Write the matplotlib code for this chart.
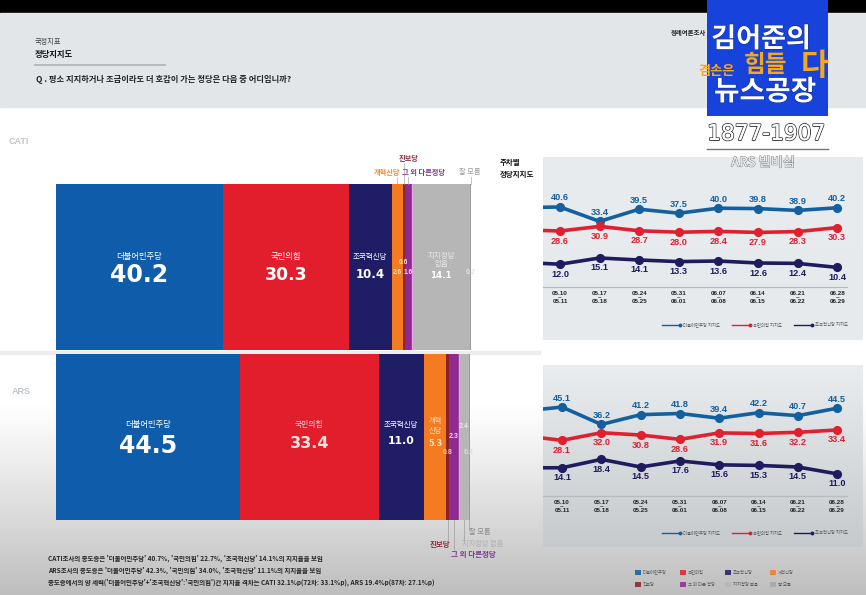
import numpy as np
import matplotlib
matplotlib.use("Agg")
import matplotlib.pyplot as plt
import matplotlib.patheffects as pe
from matplotlib.patches import Rectangle

W, H = 866, 595
KR = ['Noto Sans CJK KR', 'DejaVu Sans']
NUM = ['DejaVu Sans', 'Noto Sans CJK KR']
LAT = ['Liberation Sans', 'Noto Sans CJK KR']
plt.rcParams['font.family'] = KR

# ---- data ----
segment_names = ['더불어민주당', '국민의힘', '조국혁신당', '개혁신당', '진보당', '그 외 다른 정당', '지지정당 없음', '잘 모름']
cati_values = [40.2, 30.3, 10.4, 2.6, 0.6, 1.6, 14.1, 0.2]
ars_values = [44.5, 33.4, 11.0, 5.3, 0.8, 2.3, 2.4, 0.2]
segment_colors = ['#0f5cab', '#e31e2c', '#1f1d66', '#f47b20', '#8c2323', '#8e2a90', '#b6b6b6', '#a8a8a8']

date_labels = ['05.10\n~\n05.11', '05.17\n~\n05.18', '05.24\n~\n05.25', '05.31\n~\n06.01',
               '06.07\n~\n06.08', '06.14\n~\n06.15', '06.21\n~\n06.22', '06.28\n~\n06.29']
cati_dem = [40.6, 33.4, 39.5, 37.5, 40.0, 39.8, 38.9, 40.2]
cati_ppp = [28.6, 30.9, 28.7, 28.0, 28.4, 27.9, 28.3, 30.3]
cati_rebuild = [12.0, 15.1, 14.1, 13.3, 13.6, 12.6, 12.4, 10.4]
cati_prev = [40.3, 29.2, 12.9]
ars_dem = [45.1, 36.2, 41.2, 41.8, 39.4, 42.2, 40.7, 44.5]
ars_ppp = [28.1, 32.0, 30.8, 28.6, 31.9, 31.6, 32.2, 33.4]
ars_rebuild = [14.1, 18.4, 14.5, 17.6, 15.6, 15.3, 14.5, 11.0]
ars_prev = [43.0, 30.5, 14.1]
line_names = ['더불어민주당 지지도', '국민의힘 지지도', '조국혁신당 지지도']
line_colors = ['#14609f', '#e0202f', '#1e1c5e']

notes = ["CATI조사의 중도층은 '더불어민주당' 40.7%, '국민의힘' 22.7%, '조국혁신당' 14.1%의 지지율을 보임",
         "ARS조사의 중도층은 '더불어민주당' 42.3%, '국민의힘' 34.0%, '조국혁신당' 11.1%의 지지율을 보임",
         "중도층에서의 양 세력('더불어민주당'+'조국혁신당':'국민의힘')간 지지율 격차는 CATI 32.1%p(72차: 33.1%p), ARS 19.4%p(87차: 27.1%p)"]

# ---- canvas ----
fig = plt.figure(figsize=(W / 100, H / 100), dpi=100)

def axpx(x0, y0, x1, y1, **kw):
    return fig.add_axes([x0 / W, 1 - y1 / H, (x1 - x0) / W, (y1 - y0) / H], **kw)

bg = axpx(0, 0, W, H)
bg.set_xlim(0, W); bg.set_ylim(H, 0); bg.axis('off'); bg.set_zorder(0)

yy, xx = np.mgrid[0:H, 0:W]
shade = np.clip((yy - 400) / 195.0, 0, 1) ** 1.1
bgimg = 1 - 0.26 * shade
bg.imshow(bgimg, cmap='gray', vmin=0, vmax=1, extent=(0, W, H, 0), aspect='auto', zorder=0, interpolation='bilinear')
bg.set_xlim(0, W); bg.set_ylim(H, 0)
bg.add_patch(Rectangle((0, 0), W, 13, color='black', zorder=1))
bg.add_patch(Rectangle((0, 13), W, 94, color='#e2e6e9', zorder=1))
bg.add_patch(Rectangle((0, 351), 540, 3, color='#eeeeee', zorder=1))
bg.plot([35, 165], [65, 65], color='#b4b7ba', lw=1.3, zorder=2)

def panel(y0, y1, c0, c1):
    g = np.linspace(0, 1, 256)[:, None]
    c0 = np.array(matplotlib.colors.to_rgb(c0)); c1 = np.array(matplotlib.colors.to_rgb(c1))
    img = (c0 + (c1 - c0) * g[..., None]).reshape(256, 1, 3)
    bg.imshow(img, extent=(543, 863, y1, y0), aspect='auto', zorder=1, interpolation='bilinear')
    bg.set_xlim(0, W); bg.set_ylim(H, 0)

panel(157, 340, '#e8ecef', '#e6eaed')
panel(365, 547, '#e9edf0', '#c6cacd')

# overlay for text
ov = axpx(0, 0, W, H)
ov.set_xlim(0, W); ov.set_ylim(H, 0); ov.axis('off'); ov.set_zorder(5); ov.patch.set_alpha(0)

def T(x, y, s, size, color='black', weight='normal', ha='center', fam=KR, **kw):
    return ov.text(x, y, s, fontsize=size, color=color, fontweight=weight, ha=ha, va='center', family=fam, **kw)

# header
T(35, 42, '국정지표', 5.2, '#444444', ha='left')
T(35, 55, '정당지지도', 6.0, '#111111', 'bold', ha='left')
T(36, 80, 'Q . 평소 지지하거나 조금이라도 더 호감이 가는 정당은 다음 중 어디입니까?', 5.95, '#222222', 'bold', ha='left')
T(671, 33, '정례여론조사', 4.6, '#222222', 'bold', ha='left')
T(9, 141, 'CATI', 6.5, '#c2c6ca', 'bold', ha='left', fam=LAT)
T(12, 391, 'ARS', 6.5, '#c2c6ca', 'bold', ha='left', fam=LAT)

# stacked bars
def stacked(values, x0, x1, y0, y1):
    ax = axpx(x0, y0, x1, y1)
    ax.set_xlim(0, 100); ax.set_ylim(-.5, .5); ax.axis('off'); ax.set_zorder(2)
    left = 0
    centers = []
    for v, c in zip(values, segment_colors):
        ax.barh(0, v, left=left, height=1, color=c, linewidth=0)
        centers.append(x0 + (left + v / 2) * (x1 - x0) / 100)
        left += v
    ax.axvline(sum(values[:6]), color='#e6a6e6', lw=1.0)
    ax.axvline(sum(values[:7]), color='#9a9a9a', lw=0.7)
    return centers

c1 = stacked(cati_values, 56, 471, 184, 350)
c2 = stacked(ars_values, 56, 470, 354, 520)

# CATI labels
T(c1[0], 257, segment_names[0], 6, 'white'); T(c1[0], 275, f'{cati_values[0]:.1f}', 17, 'white', 'bold', fam=NUM)
T(c1[1], 257, segment_names[1], 6, 'white'); T(c1[1], 275, f'{cati_values[1]:.1f}', 12.5, 'white', 'bold', fam=NUM)
T(c1[2], 257, segment_names[2], 5.4, 'white'); T(c1[2], 274, f'{cati_values[2]:.1f}', 8.5, 'white', 'bold', fam=NUM)
T(c1[3], 272, f'{cati_values[3]:.1f}', 4.8, '#ffe3c8', 'bold', fam=LAT)
T(c1[4], 262, f'{cati_values[4]:.1f}', 4.8, '#ffe3c8', 'bold', fam=LAT)
T(c1[5], 272, f'{cati_values[5]:.1f}', 4.8, '#f5d5f5', 'bold', fam=LAT)
T(c1[6], 260, '지지정당\n없음', 5.4, '#e8e8e8', linespacing=1.15)
T(c1[6], 276, f'{cati_values[6]:.1f}', 6.2, 'white', 'bold', fam=NUM)
T(c1[7], 272, f'{cati_values[7]:.1f}', 5, '#e4e4e4', 'bold', fam=LAT)

# ARS labels
T(c2[0], 425, segment_names[0], 6, 'white'); T(c2[0], 446, f'{ars_values[0]:.1f}', 17, 'white', 'bold', fam=NUM)
T(c2[1], 425, segment_names[1], 5.6, '#f8d8d8'); T(c2[1], 444, f'{ars_values[1]:.1f}', 11.5, '#f8e0e0', 'bold', fam=NUM)
T(c2[2], 425, segment_names[2], 5.4, 'white'); T(c2[2], 441, f'{ars_values[2]:.1f}', 7.8, 'white', 'bold', fam=NUM)
T(c2[3], 426, '개혁\n신당', 5.2, '#ffe3c8', linespacing=1.2)
T(c2[3], 443, f'{ars_values[3]:.1f}', 5.8, '#ffe3c8', 'bold', fam=NUM)
T(c2[4], 452, f'{ars_values[4]:.1f}', 5, '#f0c8b0', 'bold', fam=LAT)
T(c2[5], 437, f'{ars_values[5]:.1f}', 5, '#ffd8ff', 'bold', fam=LAT)
T(c2[6], 426, f'{ars_values[6]:.1f}', 5, '#e8e8e8', 'bold', fam=LAT)
T(c2[7], 452, f'{ars_values[7]:.1f}', 5, '#dddddd', 'bold', fam=LAT)

# callouts CATI
T(409, 158, '진보당', 5.2, '#8c2a3a', 'bold')
T(387, 172, '개혁신당', 5.2, '#ee8a30', 'bold')
T(424, 172, '그 외 다른정당', 5.2, '#7f3590', 'bold')
T(470, 172, '잘 모름', 5.2, '#9a9a9a')
T(500, 162, '주차별', 5.4, '#111111', 'bold', ha='left')
T(500, 175, '정당지지도', 5.4, '#111111', 'bold', ha='left')
for x, y0, y1 in [(c1[3], 177, 184), (c1[4], 163, 184), (c1[5], 177, 184), (c1[7], 177, 184)]:
    ov.plot([x, x], [y0, y1], color='#a8a8a8', lw=0.5)

# callouts ARS
for x, y1 in [(c2[4], 540), (c2[5], 550), (c2[6], 543), (c2[7], 530)]:
    ov.plot([x, x], [520, y1], color='#9c9c9c', lw=0.5)
T(440, 544, '진보당', 5.4, '#8c2a3a', 'bold')
T(473, 555, '그 외 다른정당', 5.4, '#7f3590', 'bold')
T(480, 532, '잘 모름', 5.2, '#8a8a8a')
T(483, 544, '지지정당 없음', 5.2, '#b0b0b0')

# line panels
def linechart(series, prev, y0, y1, xlim, ylim):
    ax = axpx(543, y0, 847, y1)
    ax.patch.set_alpha(0); ax.set_zorder(3)
    ax.set_xlim(*xlim); ax.set_ylim(*ylim)
    for s in ['top', 'left', 'right']:
        ax.spines[s].set_visible(False)
    ax.spines['bottom'].set_color('#b8bbbe'); ax.spines['bottom'].set_linewidth(0.9)
    ax.set_yticks([])
    idx = list(range(len(date_labels)))
    ax.set_xticks(idx)
    ax.set_xticklabels(date_labels, fontsize=4.5, fontweight='bold', color='#222222',
                       family=LAT, linespacing=0.72)
    ax.tick_params(axis='x', length=0, pad=3)
    for vals, p, c, off in zip(series, prev, line_colors, [9, -10, -10]):
        ax.plot([-1] + idx, [p] + vals, color=c, lw=2.6, zorder=2)
        ax.plot(idx, vals, 'o', color=c, ms=6.6, mew=0, zorder=3)
        for i, v in zip(idx, vals):
            ax.annotate(f'{v:.1f}', (i, v), xytext=(0, off * 0.72), textcoords='offset points',
                        ha='center', va='center', fontsize=6.6, fontweight='bold', color=c, family=LAT)
    return ax

linechart([cati_dem, cati_ppp, cati_rebuild], cati_prev, 160, 287,
          ((543 - 560) / 39.6, (847 - 560) / 39.6), (0.6, 64.1))
linechart([ars_dem, ars_ppp, ars_rebuild], ars_prev, 370, 496,
          ((543 - 562) / 39.3, (847 - 562) / 39.3), (-0.3, 64.0))

# line legends
for ly in (325, 533):
    for (lx0, lx1, tx), name, c in zip([(662, 680, 683), (732, 750, 753), (794, 812, 815)], line_names, line_colors):
        ov.plot([lx0, lx1], [ly, ly], color=c, lw=1.0)
        ov.plot([lx1], [ly], 'o', color=c, ms=2.8, mew=0)
        T(tx, ly, name, 3.1, '#555555', ha='left')

# swatch legend
sw_x = [635, 680, 725, 770]
sw_y = [572, 584]
for i, (name, c) in enumerate(zip(segment_names, segment_colors)):
    x = sw_x[i % 4]; y = sw_y[i // 4]
    ov.add_patch(Rectangle((x, y - 2.5), 6, 5, color=c, lw=0, alpha=0.85))
    T(x + 8, y, name, 3.1, '#555555', ha='left')

# notes
for y, n in zip([558, 570, 582], notes):
    T(48, y, n, 4.65, '#262626', 'bold', ha='left')

# channel logo
ov.add_patch(Rectangle((707, 0), 120.5, 116, color='#1742dc', lw=0, zorder=6))
st = [pe.withStroke(linewidth=0.8, foreground='#0d2f9c')]
T(761, 39, '김어준의', 19.5, 'white', 'bold', zorder=7, path_effects=st)
T(717, 71, '겸손은', 9.5, '#f5a81c', 'bold', zorder=7)
T(766, 65, '힘들', 17, '#f5a81c', 'bold', zorder=7)
T(815, 66, '다', 22, '#f5a81c', 'bold', zorder=8)
T(765, 92, '뉴스공장', 20, 'white', 'bold', zorder=9, path_effects=st)
T(766, 134, '1877-1907', 15.6, 'white', 'normal', fam=NUM, zorder=7,
  path_effects=[pe.withStroke(linewidth=1.3, foreground='#333333'), pe.Normal()])
ov.plot([707, 828], [148.5, 148.5], color='#777777', lw=1.0, zorder=7)
T(763, 163, 'ARS 빌비심', 9.5, '#e8ecef', fam=KR, zorder=7,
  path_effects=[pe.withStroke(linewidth=0.8, foreground='#777777'), pe.Normal()])

fig.savefig('out.png', dpi=100)
